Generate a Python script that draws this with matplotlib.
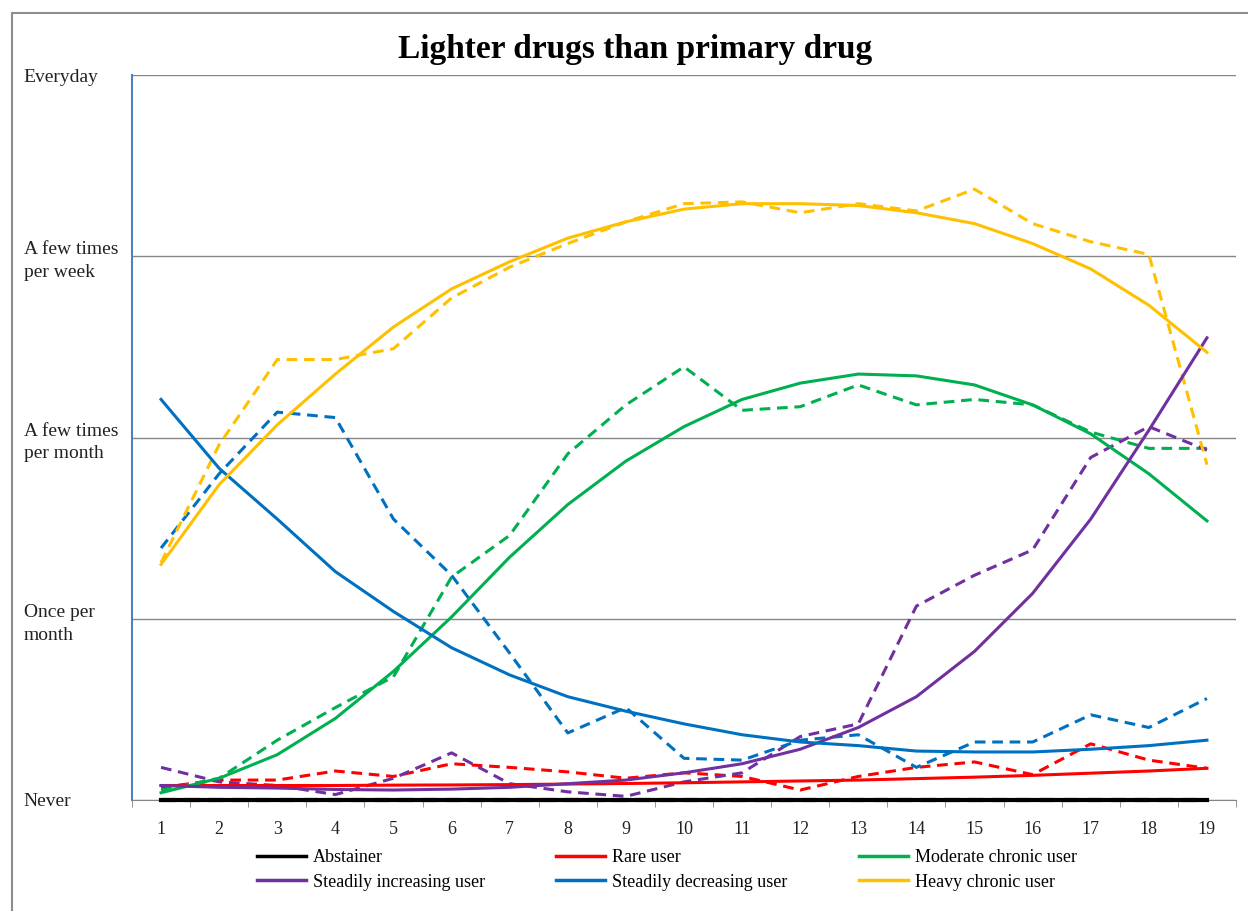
import matplotlib.pyplot as plt
from matplotlib.patches import Rectangle

plt.rcParams['font.family'] = ['Liberation Serif', 'DejaVu Serif']

# time points (x axis categories)
weeks = list(range(1, 20))

# y scale: 0 Never, 1 Once per month, 2 A few times per month, 3 A few times per week, 4 Everyday
freq_labels = ["Never", "Once per\nmonth", "A few times\nper month", "A few times\nper week", "Everyday"]

# fitted trajectories (solid)
abstainer_fit = [0.0] * 19
rare_fit = [0.08, 0.08, 0.08, 0.08, 0.082, 0.083, 0.085, 0.088, 0.091, 0.095,
            0.10, 0.105, 0.11, 0.118, 0.126, 0.136, 0.148, 0.16, 0.175]
moderate_fit = [0.04, 0.12, 0.25, 0.45, 0.71, 1.01, 1.34, 1.63, 1.87, 2.06,
                2.21, 2.30, 2.35, 2.34, 2.29, 2.18, 2.02, 1.80, 1.54]
increasing_fit = [0.08, 0.07, 0.066, 0.058, 0.055, 0.06, 0.07, 0.09, 0.11, 0.15,
                  0.20, 0.28, 0.40, 0.57, 0.82, 1.14, 1.55, 2.04, 2.55]
decreasing_fit = [2.21, 1.83, 1.55, 1.26, 1.04, 0.84, 0.69, 0.57, 0.49, 0.42,
                  0.36, 0.32, 0.30, 0.27, 0.265, 0.265, 0.28, 0.30, 0.33]
heavy_fit = [1.30, 1.74, 2.07, 2.35, 2.61, 2.82, 2.97, 3.10, 3.19, 3.26,
             3.29, 3.29, 3.28, 3.24, 3.18, 3.07, 2.93, 2.73, 2.47]

# observed means (dashed)
abstainer_obs = [0.0] * 19
rare_obs = [0.07, 0.11, 0.11, 0.16, 0.13, 0.20, 0.18, 0.155, 0.12, 0.15,
            0.13, 0.055, 0.13, 0.18, 0.21, 0.14, 0.31, 0.22, 0.175]
moderate_obs = [0.055, 0.12, 0.33, 0.51, 0.68, 1.23, 1.46, 1.91, 2.18, 2.39,
                2.15, 2.17, 2.29, 2.18, 2.21, 2.18, 2.03, 1.94, 1.94]
increasing_obs = [0.18, 0.10, 0.08, 0.03, 0.12, 0.26, 0.09, 0.045, 0.02, 0.10,
                  0.15, 0.35, 0.42, 1.07, 1.24, 1.38, 1.89, 2.06, 1.93]
decreasing_obs = [1.39, 1.80, 2.14, 2.11, 1.55, 1.24, 0.81, 0.37, 0.51, 0.23,
                  0.22, 0.33, 0.36, 0.18, 0.32, 0.32, 0.47, 0.40, 0.56]
heavy_obs = [1.31, 1.96, 2.43, 2.43, 2.49, 2.77, 2.94, 3.07, 3.19, 3.29,
             3.30, 3.24, 3.29, 3.25, 3.37, 3.18, 3.08, 3.01, 1.85]

groups = ["Abstainer", "Rare user", "Moderate chronic user",
          "Steadily increasing user", "Steadily decreasing user", "Heavy chronic user"]
colors = ["#000000", "#FF0000", "#00B050", "#7030A0", "#0070C0", "#FFC000"]
fits = [abstainer_fit, rare_fit, moderate_fit, increasing_fit, decreasing_fit, heavy_fit]
obs = [abstainer_obs, rare_obs, moderate_obs, increasing_obs, decreasing_obs, heavy_obs]

fig = plt.figure(figsize=(12.48, 9.11), dpi=100)
ax = fig.add_axes([132 / 1248, 1 - 800 / 911, (1236 - 132) / 1248, (800 - 75) / 911])

# outer frame
fig.patches.append(Rectangle((12 / 1248, -0.1), 1.2, 1.1 - 13 / 911, transform=fig.transFigure,
                             fill=False, edgecolor="#8C8C8C", linewidth=1.5))

handles = {}
for name, c, f, o in zip(groups, colors, fits, obs):
    # abstainers sit on the axis line, so keep them unclipped and on top
    z = 6 if name == "Abstainer" else 3
    lw = 3.0 if name == "Abstainer" else 2.2
    ax.plot(weeks, o, color=c, lw=lw, dashes=(3.5, 2.2), zorder=z, clip_on=False)
    h, = ax.plot(weeks, f, color=c, lw=lw, zorder=z + 1, clip_on=False)
    handles[name] = h

ax.set_xlim(0.5, 19.5)
ax.set_ylim(0, 4)

for s in ["top", "right"]:
    ax.spines[s].set_visible(False)
ax.spines["left"].set_color("#4F81BD")
ax.spines["left"].set_linewidth(1.5)
ax.spines["bottom"].set_color("#868686")

ax.set_yticks(range(5))
ax.set_yticklabels(freq_labels, fontsize=14, ha="left", color="#222222", linespacing=1.45)
ax.tick_params(axis="y", length=0, pad=78)
ax.yaxis.grid(True, color="#868686", linewidth=1)
ax.set_axisbelow(True)

ax.set_xticks(weeks)
ax.set_xticklabels([str(w) for w in weeks], fontsize=13, color="#222222")
ax.set_xticks([w + 0.5 for w in range(0, 20)], minor=True)
ax.tick_params(axis="x", which="major", length=0, pad=15)
ax.tick_params(axis="x", which="minor", length=5, color="#868686", direction="out")

fig.text(0.509, 0.946, "Lighter drugs than primary drug", ha="center", va="center",
         fontsize=24, fontweight="bold")

order = ["Abstainer", "Steadily increasing user", "Rare user",
         "Steadily decreasing user", "Moderate chronic user", "Heavy chronic user"]
leg = fig.legend([handles[n] for n in order], order, ncol=3, frameon=False, fontsize=13,
                 loc="upper left", bbox_to_anchor=(257 / 1248, 1 - 849 / 911),
                 borderpad=0, borderaxespad=0, handlelength=2.7, handletextpad=0.4,
                 columnspacing=3.95, labelspacing=0.42)
for line in leg.get_lines():
    line.set_linewidth(2.5)

fig.savefig("out.png", dpi=100)
